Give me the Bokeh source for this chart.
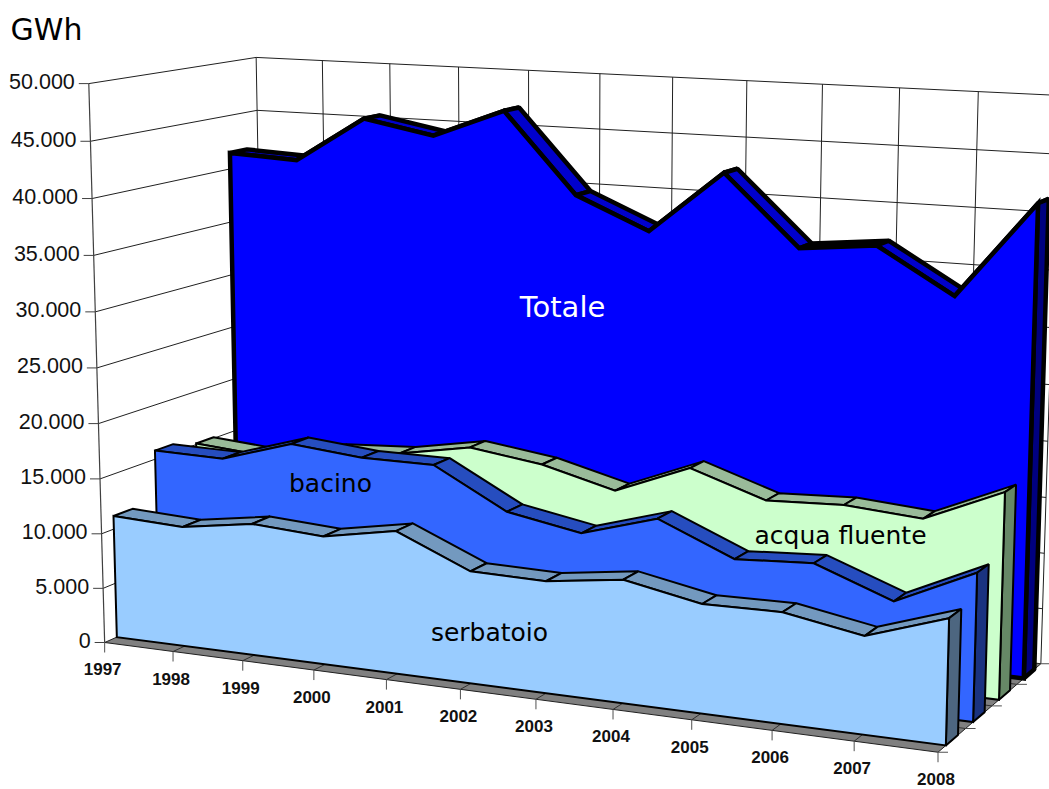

import numpy as np
from bokeh.plotting import figure
from bokeh.models import Range1d
from bokeh.core.properties import value
from bokeh.embed import file_html
from bokeh.resources import INLINE

years = ["1997","1998","1999","2000","2001","2002","2003","2004","2005","2006","2007","2008"]
y_ticks = [0,5000,10000,15000,20000,25000,30000,35000,40000,45000,50000]
y_labels = ["0","5.000","10.000","15.000","20.000","25.000","30.000","35.000","40.000","45.000","50.000"]
serbatoio = [11200,10900,11900,11500,12700,9900,9800,10700,9400,9500,8300,10600]
bacino = [15800,15700,17700,17100,17100,13600,12400,14400,11600,12000,9500,12700]
acqua_fluente = [15100,14600,15700,16100,17300,16400,14700,17400,15200,15500,15000,18000]
totale = [41500,41200,45400,44200,46800,39600,36800,42400,36200,36900,33000,41400]

# 3D view: fitted perspective camera (year index, GWh, depth) -> page pixels
view = [((0,0,0),(104,640)),((0,50000,0),(88,84)),((0,50000,1),(256,56)),((0,0,1),(265,573)),
        ((11,0,0),(938,753)),((11,0,1),(1040,662)),((11,50000,1),(1058,95))]
A,b=[],[]
for (u,v,w),(x,y) in view:
    v=v/1000
    A.append([u,v,w,1,0,0,0,0,-x*u,-x*v,-x*w]);b.append(x)
    A.append([0,0,0,0,u,v,w,1,-y*u,-y*v,-y*w]);b.append(y)
m=np.linalg.lstsq(np.array(A,float),np.array(b,float),rcond=None)[0]
M=np.array([m[:4],m[4:8],list(m[8:])+[1]])
def pr(u,v,w):
    q=M@np.array([u,v/1000,w,1.0])
    return q[0]/q[2],q[1]/q[2]
def poly(pts):
    c=[pr(*t) for t in pts]
    return [a for a,_ in c],[a for _,a in c]

p=figure(width=1049,height=789,x_range=Range1d(0,1049),y_range=Range1d(789,0),
         output_backend="svg",toolbar_location=None,x_axis_location=None,y_axis_location=None,
         min_border=0,outline_line_color=None,background_fill_color="white",border_fill_color="white")
p.grid.visible=False
n=len(years)
GRID="#202020"
def seg(a,b,color=GRID,w=1.0):
    x,y=poly([a,b]); p.line(x,y,line_color=color,line_width=w)

# floor
x,y=poly([(0,0,0),(n-1,0,0),(n-1,0,1),(0,0,1)])
p.patch(x,y,fill_color="#808080",line_color="#202020",line_width=1)
for i in range(1,n-1): seg((i,0,0),(i,0,1),"#303030",1)
for w in (.25,.5,.75): seg((0,0,w),(n-1,0,w),"#303030",1)
# walls
for t in y_ticks[1:]:
    seg((0,t,0),(0,t,1)); seg((0,t,1),(n-1,t,1))
seg((0,0,0),(0,50000,0),"#404040",1.2)
for i in range(n):
    seg((i,0,1),(i,50000,1))
# ticks
for t in y_ticks:
    x0,y0=pr(0,t,0); p.line([x0-10,x0],[y0,y0],line_color="#404040",line_width=1)
for i in range(n):
    x0,y0=pr(i,0,0); p.line([x0,x0],[y0,y0+10],line_color="#505050",line_width=1)
for w in (0,.25,.5,.75,1):
    x0,y0=pr(n-1,0,w); p.line([x0,x0+10],[y0,y0],line_color="#505050",line_width=1)

def area(vals,w0,w1,face,top,side,lw):
    for i in range(n-1):
        x,y=poly([(i,vals[i],w0),(i+1,vals[i+1],w0),(i+1,vals[i+1],w1),(i,vals[i],w1)])
        p.patch(x,y,fill_color=top,line_color="black",line_width=lw,line_join="bevel")
    x,y=poly([(n-1,0,w0),(n-1,vals[-1],w0),(n-1,vals[-1],w1),(n-1,0,w1)])
    p.patch(x,y,fill_color=side,line_color="black",line_width=lw,line_join="bevel")
    pts=[(0,0,w0)]+[(i,vals[i],w0) for i in range(n)]+[(n-1,0,w0)]
    x,y=poly(pts)
    p.patch(x,y,fill_color=face,line_color="black",line_width=lw,line_join="miter")

area(totale,.82,.93,"#0000FF","#0000CC","#000080",4.5)
area(acqua_fluente,.57,.68,"#CCFFCC","#99BB99","#668866",2)
area(bacino,.32,.43,"#3366FF","#264DBF","#1A3380",2)
area(serbatoio,.07,.18,"#99CCFF","#7399BF","#4D6680",2)

def label(xs,ys,t,size,color="black",font="DejaVu Sans",style="normal",align="center",base="middle"):
    p.text(xs,ys,text=t,text_font=value(font),text_font_size=size,text_color=color,
           text_font_style=style,text_align=align,text_baseline=base)
lx,ly=[],[]
for t in y_ticks:
    x0,y0=pr(0,t,0); lx.append(x0-14); ly.append(y0-2)
label(lx,ly,y_labels,"21.5px",color="#111111",font="Liberation Sans",align="right")
lx,ly=[],[]
for i in range(n):
    x0,y0=pr(i,0,0); lx.append(x0-2); ly.append(y0+27)
label(lx,ly,years,"17px",color="#111111",font="Liberation Sans",style="bold")
label([46],[29],["GWh"],"30px")
label([562],[306],["Totale"],"29px",color="white")
label([330],[483],["bacino"],"25px")
label([840],[535],["acqua fluente"],"25px")
label([489],[632],["serbatoio"],"25px")

open("out.html","w").write(file_html(p,INLINE))
